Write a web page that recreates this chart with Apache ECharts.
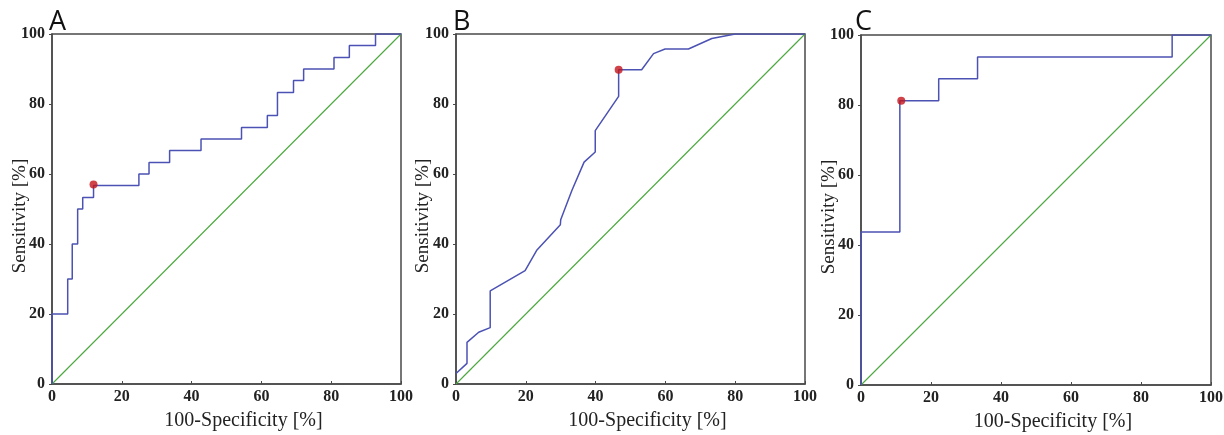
<!DOCTYPE html>
<html>
<head>
<meta charset="utf-8">
<script src="https://cdn.jsdelivr.net/npm/echarts@6/dist/echarts.min.js"></script>
<style>
html,body{margin:0;padding:0;background:#fff;}
#c{width:1224px;height:435px;}
</style>
</head>
<body>
<div id="c"></div>
<script>
// Panel labels and axis titles
const panelLabels = ['A', 'B', 'C'];
const xTitle = '100-Specificity [%]';
const yTitle = 'Sensitivity [%]';

// Panel A: ROC operating points (100-Specificity, Sensitivity), drawn as a step curve
const rocA = [[0,0],[0,20],[4.5,30],[5.8,40],[7.35,50],[8.8,53.3],[11.9,56.7],[24.9,60],[27.8,63.3],[33.7,66.7],[42.7,70],[54.3,73.3],[61.7,76.7],[64.6,83.3],[69.2,86.7],[72.1,90],[80.8,93.3],[85.2,96.7],[92.7,100],[100,100]];
const cutA = [[11.9, 57]];

// Panel B: ROC polyline
const rocB = [[0,3],[3.15,5.9],[3.15,11.9],[6.5,14.8],[9.8,16.1],[9.8,26.6],[19.8,32.4],[23.2,38.3],[29.9,45.5],[30,46.9],[33.2,55.3],[36.7,63.4],[39.9,66.3],[39.9,72.4],[46.6,82.2],[46.6,89.8],[53.2,89.8],[56.6,94.4],[59.9,95.7],[66.6,95.7],[73.3,98.7],[80,100],[100,100]];
const cutB = [[46.6, 89.8]];

// Panel C: ROC operating points, step curve
const rocC = [[0,0],[0,43.75],[11.1,81.25],[22.2,87.5],[33.3,93.75],[88.9,100],[100,100]];
const cutC = [[11.5, 81.25]];

const diagonal = [[0,0],[100,100]];

const curves = [rocA, rocB, rocC];
const cuts = [cutA, cutB, cutC];
const steps = ['end', false, 'end'];

const grids = [
  {left: 52, top: 34, width: 349, height: 350},
  {left: 456, top: 34, width: 349, height: 350},
  {left: 861, top: 35, width: 350, height: 350}
];
const yNameGaps = [22, 23, 22];
const letterLeft = [44, 448, 850];

const serif = '"Liberation Serif", "DejaVu Serif", serif';
const frame = '#4a4a4a';

const option = {
  animation: false,
  backgroundColor: '#fff',
  title: panelLabels.map((t, i) => ({
    text: t, left: letterLeft[i], top: 4,
    textStyle: {fontFamily: '"Open Sans", "DejaVu Sans", sans-serif', fontWeight: 'normal', fontSize: 27, color: '#111'}
  })),
  grid: grids.map(g => Object.assign({show: true, borderColor: frame, borderWidth: 1.5, backgroundColor: 'transparent', containLabel: false, outerBoundsMode: 'none'}, g)),
  xAxis: grids.map((g, i) => ({
    type: 'value', gridIndex: i, min: 0, max: 100, interval: 20,
    name: xTitle, nameLocation: 'middle', nameGap: 27, nameMoveOverlap: false,
    nameTextStyle: {fontFamily: serif, fontSize: 20, color: '#222', padding: [0, 0, 0, 34]},
    axisLine: {show: true, lineStyle: {color: frame, width: 1.5}},
    axisTick: {show: true, inside: true, length: 3, lineStyle: {color: frame}},
    axisLabel: {fontFamily: serif, fontWeight: 'bold', fontSize: 16, color: '#222', margin: 5},
    splitLine: {show: false}
  })),
  yAxis: grids.map((g, i) => ({
    type: 'value', gridIndex: i, min: 0, max: 100, interval: 20,
    name: yTitle, nameLocation: 'middle', nameGap: yNameGaps[i], nameRotate: 90, nameMoveOverlap: false,
    nameTextStyle: {fontFamily: serif, fontSize: 19, color: '#222', padding: [0, 14, 0, 0]},
    axisLine: {show: true, lineStyle: {color: frame, width: 1.5}},
    axisTick: {show: true, inside: false, length: 3, lineStyle: {color: frame}},
    axisLabel: {fontFamily: serif, fontWeight: 'bold', fontSize: 16, color: '#222', margin: 7},
    splitLine: {show: false}
  })),
  series: []
};

for (let i = 0; i < 3; i++) {
  option.series.push({
    type: 'line', xAxisIndex: i, yAxisIndex: i, data: diagonal,
    showSymbol: false, symbol: 'none', lineStyle: {color: '#4aa83c', width: 1.1}, z: 2
  });
  option.series.push({
    type: 'line', xAxisIndex: i, yAxisIndex: i, data: curves[i], step: steps[i],
    showSymbol: false, symbol: 'none', lineStyle: {color: '#4b52b3', width: 1.5}, z: 3
  });
  option.series.push({
    type: 'scatter', xAxisIndex: i, yAxisIndex: i, data: cuts[i],
    symbolSize: 8, itemStyle: {color: '#c3141b'}, z: 4
  });
}

const chart = echarts.init(document.getElementById('c'), null, {renderer: 'canvas'});
chart.setOption(option);
</script>
</body>
</html>
